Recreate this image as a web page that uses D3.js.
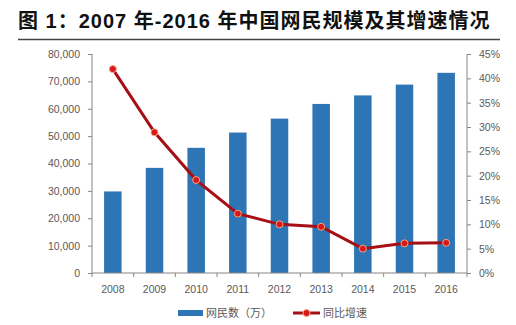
<!DOCTYPE html>
<html>
<head>
<meta charset="utf-8">
<script src="https://cdn.jsdelivr.net/npm/d3@7"></script>
<style>
  body { margin: 0; background: #fff; }
  svg { display: block; }
  .tick text { fill: #595959; font-family: "Liberation Sans", "Open Sans", sans-serif; font-size: 10.5px; }
  .domain, .tick line { stroke: #868686; }
</style>
</head>
<body>
<script>
  // years, internet users (10k) and year-on-year growth
  var years = ["2008", "2009", "2010", "2011", "2012", "2013", "2014", "2015", "2016"];
  var users = [29800, 38400, 45730, 51310, 56400, 61758, 64875, 68826, 73125];
  var growth = [0.419, 0.289, 0.191, 0.122, 0.100, 0.095, 0.050, 0.061, 0.062];
  var leftTicks = [0, 10000, 20000, 30000, 40000, 50000, 60000, 70000, 80000];
  var rightTicks = [0, 0.05, 0.10, 0.15, 0.20, 0.25, 0.30, 0.35, 0.40, 0.45];

  var W = 516, H = 325;
  var plotL = 92, plotR = 467, plotT = 54, plotB = 273;

  var svg = d3.select("body").append("svg")
    .attr("width", W)
    .attr("height", H);

  // title and rule under it
  svg.append("text")
    .attr("x", 18)
    .attr("y", 28)
    .attr("font-family", "'Liberation Sans', 'Noto Sans CJK SC', sans-serif")
    .attr("font-weight", "bold")
    .attr("font-size", 20)
    .attr("letter-spacing", 1)
    .attr("fill", "#111")
    .attr("xml:space", "preserve")
    .text("图 1：2007 年-2016 年中国网民规模及其增速情况");

  svg.append("line")
    .attr("x1", 18).attr("x2", 500)
    .attr("y1", 39.5).attr("y2", 39.5)
    .attr("stroke", "#444")
    .attr("stroke-width", 1.5);

  var x = d3.scaleBand()
    .domain(years)
    .range([plotL, plotR])
    .paddingInner(0.58)
    .paddingOuter(0.29);

  var xAxisBand = d3.scaleBand().domain(years).range([plotL, plotR]);

  var y = d3.scaleLinear().domain([0, 80000]).range([plotB, plotT]);
  var y2 = d3.scaleLinear().domain([0, 0.45]).range([plotB, plotT]);

  // bars
  svg.append("g").selectAll("rect")
    .data(users)
    .enter().append("rect")
    .attr("x", function(d, i) { return x(years[i]); })
    .attr("y", function(d) { return y(d); })
    .attr("width", x.bandwidth())
    .attr("height", function(d) { return y(0) - y(d); })
    .attr("fill", "#2E75B6");

  // left axis
  svg.append("g")
    .attr("transform", "translate(" + plotL + ",0)")
    .call(d3.axisLeft(y).tickValues(leftTicks).tickSize(4).tickPadding(8)
      .tickFormat(d3.format(",")))
    .call(function(g) { g.select(".domain").attr("d", "M0," + plotT + "V" + plotB); });

  // right axis
  svg.append("g")
    .attr("transform", "translate(" + plotR + ",0)")
    .call(d3.axisRight(y2).tickValues(rightTicks).tickSize(4).tickPadding(8)
      .tickFormat(d3.format(".0%")))
    .call(function(g) { g.select(".domain").attr("d", "M0," + plotT + "V" + plotB); });

  // x axis with ticks between categories
  var xg = svg.append("g")
    .attr("transform", "translate(0," + plotB + ")");
  xg.append("line")
    .attr("x1", plotL).attr("x2", plotR)
    .attr("stroke", "#868686");
  xg.selectAll(".xt")
    .data(years.concat(["end"]))
    .enter().append("line")
    .attr("x1", function(d, i) { return plotL + i * xAxisBand.bandwidth(); })
    .attr("x2", function(d, i) { return plotL + i * xAxisBand.bandwidth(); })
    .attr("y1", 0).attr("y2", 4)
    .attr("stroke", "#868686");
  xg.selectAll("text")
    .data(years)
    .enter().append("text")
    .attr("x", function(d) { return xAxisBand(d) + xAxisBand.bandwidth() / 2; })
    .attr("y", 20)
    .attr("text-anchor", "middle")
    .attr("font-family", "'Liberation Sans', 'Open Sans', sans-serif")
    .attr("font-size", 10.5)
    .attr("fill", "#595959")
    .text(function(d) { return d; });

  // growth line
  var line = d3.line()
    .x(function(d, i) { return xAxisBand(years[i]) + xAxisBand.bandwidth() / 2; })
    .y(function(d) { return y2(d); });

  svg.append("path")
    .datum(growth)
    .attr("d", line)
    .attr("fill", "none")
    .attr("stroke", "#A50F15")
    .attr("stroke-width", 3);

  svg.append("g").selectAll("circle")
    .data(growth)
    .enter().append("circle")
    .attr("cx", function(d, i) { return xAxisBand(years[i]) + xAxisBand.bandwidth() / 2; })
    .attr("cy", function(d) { return y2(d); })
    .attr("r", 3.5)
    .attr("fill", "#D7191C")
    .attr("stroke", "#F4A582")
    .attr("stroke-width", 1);

  // legend
  var lg = svg.append("g").attr("font-family", "'Noto Sans CJK SC', sans-serif")
    .attr("font-size", 11).attr("fill", "#595959");
  lg.append("rect")
    .attr("x", 178).attr("y", 310)
    .attr("width", 25).attr("height", 6)
    .attr("fill", "#2E75B6");
  lg.append("text").attr("x", 206).attr("y", 317).text("网民数（万）");
  lg.append("line")
    .attr("x1", 293).attr("x2", 320)
    .attr("y1", 313).attr("y2", 313)
    .attr("stroke", "#A50F15").attr("stroke-width", 3);
  lg.append("circle")
    .attr("cx", 306.5).attr("cy", 313).attr("r", 3.5)
    .attr("fill", "#D7191C").attr("stroke", "#F4A582");
  lg.append("text").attr("x", 323).attr("y", 317).text("同比增速");
</script>
</body>
</html>
